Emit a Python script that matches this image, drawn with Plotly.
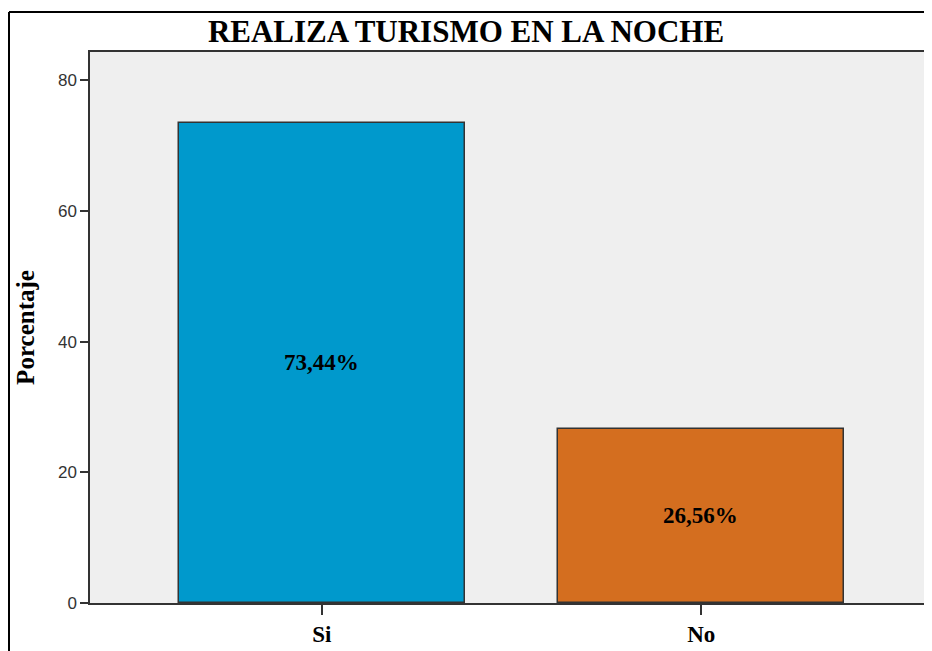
import plotly.graph_objects as go

categories = ["Si", "No"]
values = [73.44, 26.56]
colors = ["#0099CC", "#D46E1F"]
title_text = "REALIZA TURISMO EN LA NOCHE"
y_title = "Porcentaje"
y_ticks = [0, 20, 40, 60, 80]

# page body has an 8px margin; compensate so plot lands where the reference has it
OFF = 8
W, H = 932 - OFF, 651 - OFF
ml, mr, mt = 90 - OFF, 3, 52 - OFF
mb = H - (603 - OFF)
pw, ph = W - ml - mr, H - mt - mb

fig = go.Figure()
fig.add_trace(go.Bar(
    x=categories, y=values, width=0.754,
    marker=dict(color=colors, line=dict(color="#333333", width=1.5)),
    texttemplate="%{y:.2f}%", textposition="inside", insidetextanchor="middle",
    textangle=0, constraintext="none",
    insidetextfont=dict(family="Liberation Serif", size=23, color="black", weight="bold"),
    hoverinfo="skip",
))

# outer frame (left and top edges; the others run off the page)
fx0 = (9 - OFF - ml) / pw
fy1 = 1 + (mt - (12 - OFF)) / ph
fig.add_shape(type="line", xref="paper", yref="paper",
              x0=fx0, x1=fx0, y0=-(mb + 10) / ph, y1=fy1,
              line=dict(color="black", width=2), layer="above")
fig.add_shape(type="line", xref="paper", yref="paper",
              x0=fx0, x1=1 + 10 / pw, y0=fy1, y1=fy1,
              line=dict(color="black", width=2), layer="above")

fig.update_layout(
    width=W, height=H,
    margin=dict(l=ml, r=mr, t=mt, b=mb, autoexpand=False),
    separators=",.",
    paper_bgcolor="white", plot_bgcolor="#EFEFEF",
    showlegend=False,
    title=dict(text=title_text, x=(466 - OFF) / W, xref="container", xanchor="center",
               y=1 - (31 - OFF) / H, yref="container", yanchor="middle",
               font=dict(family="Liberation Serif", size=31, color="black", weight="bold")),
    bargap=0,
)
fig.update_xaxes(
    range=[-0.611, 1.6], showgrid=False, zeroline=False, automargin=False,
    showline=True, linecolor="#333333", linewidth=1.5, mirror=True,
    ticks="outside", ticklen=10, tickcolor="#333333", tickwidth=1.5,
    tickfont=dict(family="Liberation Serif", size=23, color="black", weight="bold"),
)
fig.update_yaxes(
    range=[0, 84.3], tickvals=y_ticks, showgrid=False, zeroline=False, automargin=False,
    showline=True, linecolor="#333333", linewidth=1.5,
    ticks="outside", ticklen=8, tickcolor="#333333", tickwidth=1.5,
    tickfont=dict(family="Liberation Sans", size=17, color="#333333"),
    title=dict(text=y_title, standoff=16,
               font=dict(family="Liberation Serif", size=25, color="black", weight="bold")),
)
fig.add_shape(type="line", xref="paper", yref="paper", x0=1, x1=1, y0=0, y1=1,
              line=dict(color="#CFCFCF", width=1))

fig.write_html("out.html")
